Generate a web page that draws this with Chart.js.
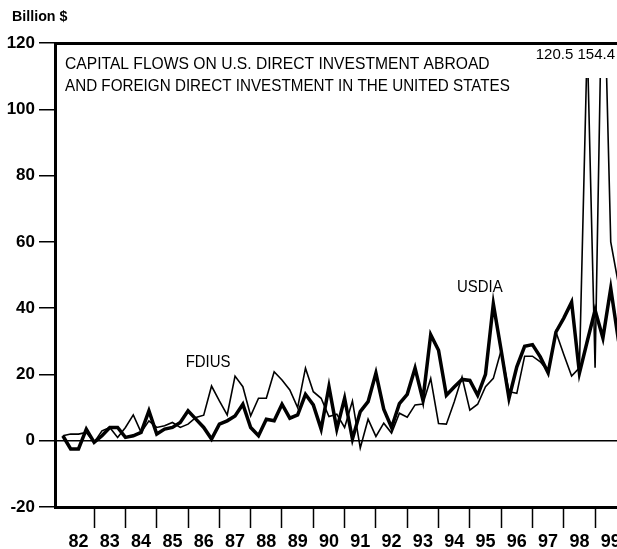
<!DOCTYPE html>
<html>
<head>
<meta charset="utf-8">
<script src="https://cdn.jsdelivr.net/npm/chart.js@4.4.1/dist/chart.umd.min.js"></script>
<style>
  html, body { margin: 0; padding: 0; background: #fff; }
  #wrap { width: 617px; height: 549px; position: relative; overflow: hidden; }
  canvas { display: block; }
</style>
</head>
<body>
<div id="wrap"><canvas id="flows" width="617" height="549"></canvas></div>
<script>
// Years on the horizontal axis and their short labels
const years = [1982, 1983, 1984, 1985, 1986, 1987, 1988, 1989, 1990,
               1991, 1992, 1993, 1994, 1995, 1996, 1997, 1998, 1999];
const yearLabels = ['82', '83', '84', '85', '86', '87', '88', '89', '90',
                    '91', '92', '93', '94', '95', '96', '97', '98', '99'];

// Vertical axis ticks, billion dollars
const yTicks = [-20, 0, 20, 40, 60, 80, 100, 120];

// Quarterly capital flows, 1982 Q1 onward (billion $)
// U.S. direct investment abroad
const usdia = [
   1.5, -2.5, -2.5,  3.5,   // 1982
  -0.5,  1.5,  4.0,  4.0,   // 1983
   1.0,  1.5,  2.5,  9.0,   // 1984
   2.0,  3.5,  4.0,  5.5,   // 1985
   9.0,  6.5,  4.0,  0.5,   // 1986
   5.0,  6.0,  7.5, 11.0,   // 1987
   4.0,  1.5,  6.5,  6.0,   // 1988
  11.0,  6.8,  7.8, 14.0,   // 1989
  10.8,  3.5, 16.3,  3.5,   // 1990
  12.8,  0.5,  8.8, 11.8,   // 1991
  20.4,  9.5,  4.0, 11.2,   // 1992
  14.0, 21.9, 12.3, 32.0,   // 1993
  27.3, 13.7, 16.2, 18.5,   // 1994
  18.2, 13.7, 20.0, 41.3,   // 1995
  27.3, 12.8, 22.3, 28.5,   // 1996
  29.0, 25.3, 20.5, 32.8,   // 1997
  37.0, 41.8, 20.4, 30.0,   // 1998
  39.4, 31.0, 46.0, 30.0    // 1999
];
// Foreign direct investment in the United States
const fdius = [
   1.5,  2.0,  2.0,  2.5,   // 1982
  -0.5,  3.0,  4.0,  1.0,   // 1983
   4.0,  7.8,  2.5,  6.0,   // 1984
   4.0,  4.5,  5.5,  4.0,   // 1985
   5.0,  7.0,  7.7, 16.5,   // 1986
  12.0,  7.8, 19.5, 16.3,   // 1987
   7.5, 12.8, 12.8, 20.8,   // 1988
  18.3, 15.3, 10.0, 21.9,   // 1989
  14.8, 12.8,  7.3,  8.0,   // 1990
   4.0, 12.0, -2.2,  6.5,   // 1991
   1.3,  5.3,  2.3,  8.3,   // 1992
   7.1, 10.8, 11.1, 18.8,   // 1993
   5.2,  5.0, 11.7, 19.2,   // 1994
   9.2, 11.0, 16.3, 18.8,   // 1995
  27.3, 14.8, 14.3, 25.5,   // 1996
  25.5, 23.8, 21.0, 32.8,   // 1997
  26.0, 19.5, 22.0, 120.5,  // 1998
  22.0, 154.4, 60.0, 47.0   // 1999
];

const titleLines = [
  'CAPITAL FLOWS ON U.S. DIRECT INVESTMENT ABROAD',
  'AND FOREIGN DIRECT INVESTMENT IN THE UNITED STATES'
];
const unitLabel = 'Billion $';

// Quarter n of the series sits at year + n/4
const toPoints = arr => arr.map((v, i) => ({ x: years[0] + i / 4, y: v }));

const FONT = '"Liberation Sans", Arial, Helvetica, sans-serif';
const X_MIN = 1981.75, X_MAX = 1999.7;

// Draws condensed text (title, series names, off-scale values)
function condensedText(ctx, text, x, y, size, sx, align, weight) {
  ctx.save();
  ctx.font = (weight || 'normal') + ' ' + size + 'px ' + FONT;
  ctx.fillStyle = '#000';
  ctx.textBaseline = 'middle';
  ctx.textAlign = align || 'left';
  ctx.translate(x, y);
  ctx.scale(sx, 1);
  ctx.fillText(text, 0, 0);
  ctx.restore();
}

const annotations = {
  id: 'annotations',
  afterDraw(chart) {
    const { ctx, chartArea: a, scales: { x, y } } = chart;
    // unit caption above the axis
    condensedText(ctx, unitLabel, 12, 17, 15, 0.95, 'left', 'bold');
    // title inside the frame
    condensedText(ctx, titleLines[0], a.left + 10, 64.5, 17, 0.92, 'left');
    condensedText(ctx, titleLines[1], a.left + 10, 86.5, 17, 0.895, 'left');
    // series names next to their lines
    condensedText(ctx, 'FDIUS', x.getPixelForValue(1986.64), y.getPixelForValue(23.7), 17, 0.88, 'center');
    condensedText(ctx, 'USDIA', x.getPixelForValue(1995.32), y.getPixelForValue(46.4), 17, 0.88, 'center');
    // values of the two quarters that run off the scale
    const offScale = fdius.filter(v => v > 120).map(v => v.toFixed(1)).join(' ');
    condensedText(ctx, offScale, a.right - 2, 55, 15, 1.0, 'right');
  }
};

new Chart(document.getElementById('flows'), {
  type: 'line',
  data: {
    datasets: [
      {
        label: 'USDIA',
        data: toPoints(usdia),
        borderColor: '#000',
        borderWidth: 3.5,
        borderJoinStyle: 'miter',
        pointRadius: 0,
        tension: 0
      },
      {
        label: 'FDIUS',
        data: toPoints(fdius),
        borderColor: '#000',
        borderWidth: 1.6,
        borderJoinStyle: 'miter',
        pointRadius: 0,
        tension: 0,
        // the two spikes are cut short below the frame top
        clip: { left: 0, top: -35, right: 0, bottom: 0 }
      }
    ]
  },
  options: {
    responsive: false,
    animation: false,
    devicePixelRatio: 1,
    layout: { padding: 0 },
    plugins: { legend: { display: false }, tooltip: { enabled: false } },
    scales: {
      x: {
        type: 'linear',
        position: 'bottom',
        min: X_MIN,
        max: X_MAX,
        afterBuildTicks: s => { s.ticks = years.map(yr => ({ value: yr + 0.5 })); },
        afterFit: s => { s.height = 42; s.paddingLeft = 0; s.paddingRight = 0; },
        grid: {
          offset: true,
          drawOnChartArea: false,
          drawTicks: true,
          tickLength: 21,
          tickWidth: 1.5,
          tickColor: c => (c.index === 0 ? 'rgba(0,0,0,0)' : '#000')
        },
        border: { display: true, color: '#000', width: 3 },
        ticks: {
          autoSkip: false,
          maxRotation: 0,
          padding: 3,
          color: '#000',
          font: { family: FONT, size: 18, weight: 'bold' },
          callback: (v, i) => yearLabels[i]
        }
      },
      xTop: {
        type: 'linear',
        position: 'top',
        min: X_MIN,
        max: X_MAX,
        afterFit: s => { s.height = 43; s.paddingLeft = 0; s.paddingRight = 0; },
        grid: { display: false },
        ticks: { display: false },
        border: { display: true, color: '#000', width: 3 }
      },
      y: {
        type: 'linear',
        min: -20,
        max: 120,
        afterBuildTicks: s => { s.ticks = yTicks.map(v => ({ value: v })); },
        afterFit: s => { s.width = 55; s.paddingTop = 0; s.paddingBottom = 0; },
        grid: {
          drawOnChartArea: true,
          drawTicks: true,
          tickLength: 16,
          tickWidth: 1.5,
          tickColor: '#000',
          lineWidth: 1.5,
          color: c => (c.tick && c.tick.value === 0 ? '#000' : 'rgba(0,0,0,0)')
        },
        border: { display: true, color: '#000', width: 3 },
        ticks: {
          padding: 4,
          color: '#000',
          font: { family: FONT, size: 17, weight: 'bold' }
        }
      }
    }
  },
  plugins: [annotations]
});
</script>
</body>
</html>
